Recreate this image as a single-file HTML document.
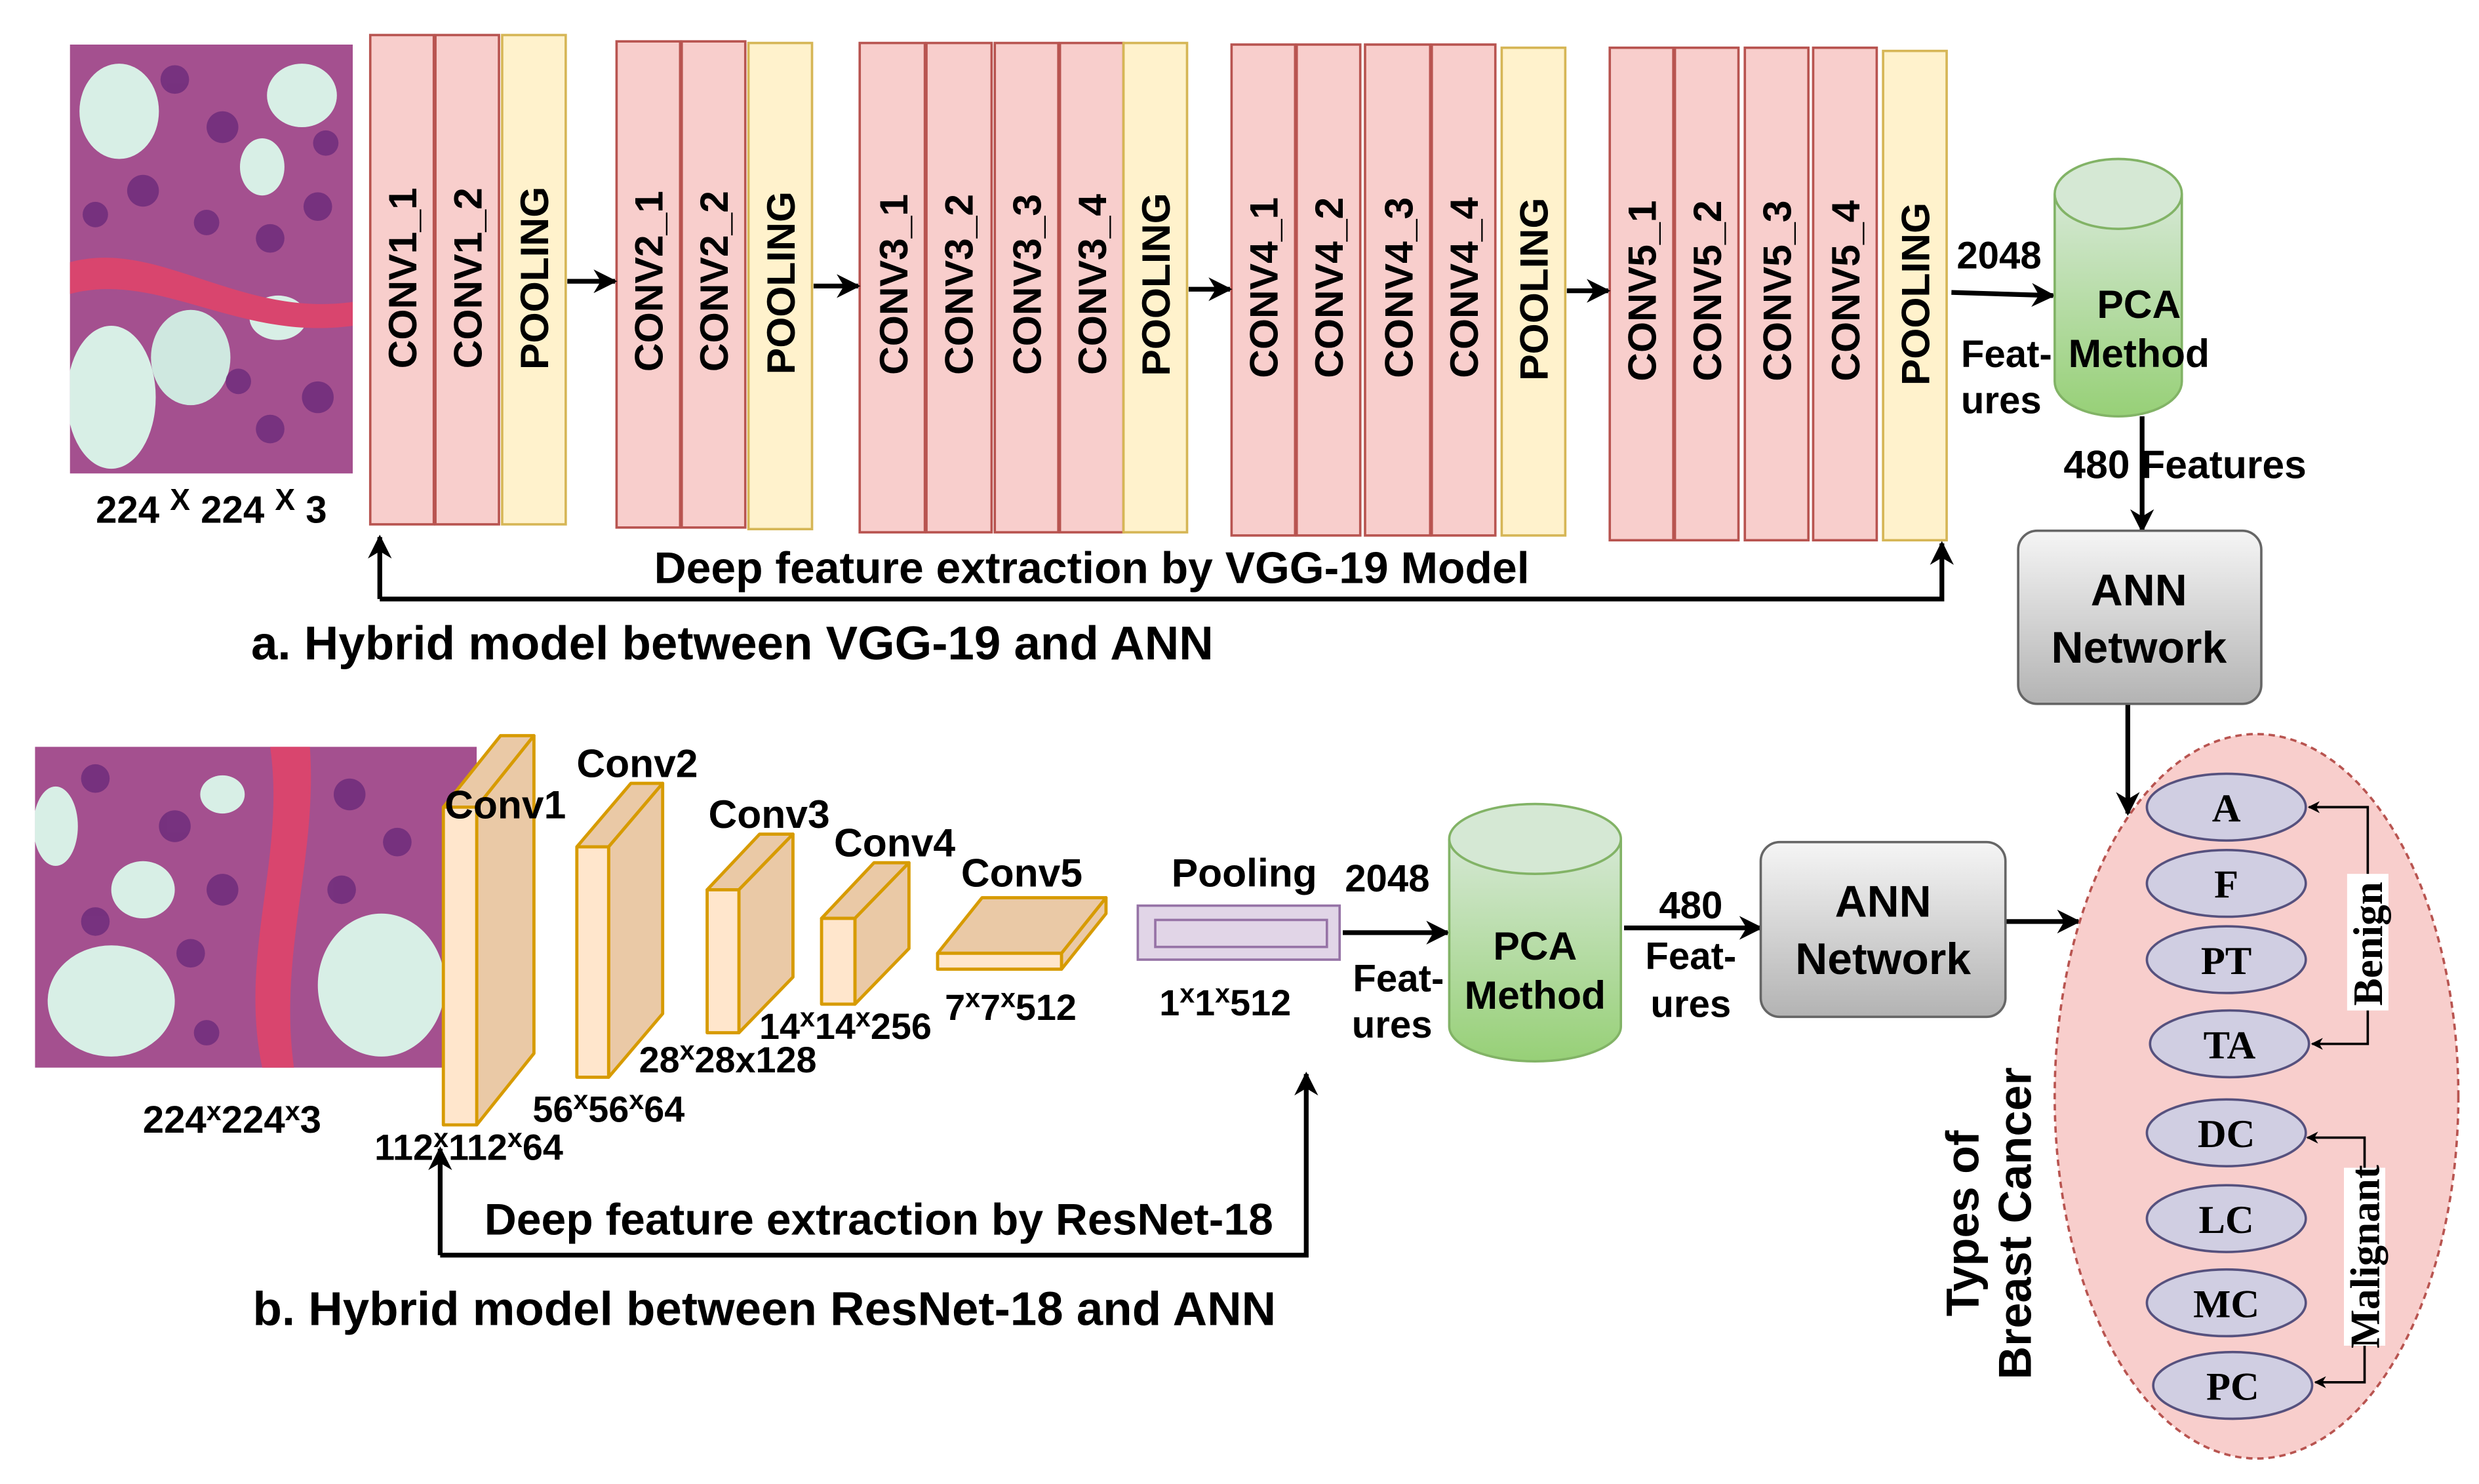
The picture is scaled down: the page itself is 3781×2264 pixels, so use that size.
<!DOCTYPE html>
<html><head><meta charset="utf-8"><style>
html,body{margin:0;padding:0;background:#fff;}
svg{display:block;}
text{font-family:"Liberation Sans",Arial,sans-serif;font-weight:bold;fill:#000;}
.s{font-family:"Liberation Serif",serif;}
</style></head><body>
<svg width="3781" height="2264" viewBox="0 0 1560 934" xmlns="http://www.w3.org/2000/svg">
<defs>
<marker id="ah" viewBox="0 0 10 10" refX="9" refY="5" markerWidth="5" markerHeight="5" orient="auto"><path d="M0,0 L10,5 L0,10 L3,5 z" fill="#000"/></marker>
<linearGradient id="gr" x1="0" y1="0" x2="0" y2="1"><stop offset="0" stop-color="#f5f5f5"/><stop offset="1" stop-color="#b3b3b3"/></linearGradient>
<linearGradient id="gg" x1="0" y1="0" x2="0" y2="1"><stop offset="0" stop-color="#d5e8d4"/><stop offset="1" stop-color="#97d077"/></linearGradient>
<clipPath id="c1"><rect x="44" y="28" width="178" height="270"/></clipPath>
<clipPath id="c2"><rect x="22" y="470" width="278" height="202"/></clipPath>
</defs>

<g clip-path="url(#c1)">
<rect x="44" y="28" width="178" height="270" fill="#a4508f"/>
<ellipse cx="75" cy="70" rx="25" ry="30" fill="#d8efe6"/>
<ellipse cx="190" cy="60" rx="22" ry="20" fill="#d8efe6"/>
<ellipse cx="165" cy="105" rx="14" ry="18" fill="#d8efe6"/>
<ellipse cx="70" cy="250" rx="28" ry="45" fill="#d8efe6"/>
<ellipse cx="120" cy="225" rx="25" ry="30" fill="#cfe8e0"/>
<ellipse cx="175" cy="200" rx="18" ry="14" fill="#d8efe6"/>
<path d="M44,165 C100,150 150,200 222,190 L222,205 C150,215 100,170 44,185z" fill="#d9456e"/>
<g fill="#6b2a7a" opacity="0.8">
<circle cx="110" cy="50" r="9"/><circle cx="140" cy="80" r="10"/><circle cx="200" cy="130" r="9"/><circle cx="90" cy="120" r="10"/><circle cx="130" cy="140" r="8"/><circle cx="170" cy="150" r="9"/><circle cx="60" cy="135" r="8"/><circle cx="200" cy="250" r="10"/><circle cx="170" cy="270" r="9"/><circle cx="150" cy="240" r="8"/><circle cx="205" cy="90" r="8"/>
</g>
</g>
<text x="133" y="329" font-size="24" text-anchor="middle">224 <tspan dy="-8" font-size="19">X</tspan><tspan dy="8"> 224 </tspan><tspan dy="-8" font-size="19">X</tspan><tspan dy="8"> 3</tspan></text>

<g stroke-width="1.5">
<g fill="#f8cecc" stroke="#b85450">
<rect x="233" y="22" width="40" height="308"/><rect x="274" y="22" width="40" height="308"/>
<rect x="388" y="26" width="40" height="306"/><rect x="429" y="26" width="40" height="306"/>
<rect x="541" y="27" width="41" height="308"/><rect x="583" y="27" width="41" height="308"/><rect x="626" y="27" width="40" height="308"/><rect x="667" y="27" width="40" height="308"/>
<rect x="775" y="28" width="40" height="309"/><rect x="816" y="28" width="40" height="309"/><rect x="859" y="28" width="41" height="309"/><rect x="901" y="28" width="40" height="309"/>
<rect x="1013" y="30" width="40" height="310"/><rect x="1054" y="30" width="40" height="310"/><rect x="1098" y="30" width="40" height="310"/><rect x="1141" y="30" width="40" height="310"/>
</g>
<g fill="#fff2cc" stroke="#d6b656">
<rect x="316" y="22" width="40" height="308"/><rect x="471" y="27" width="40" height="306"/><rect x="707" y="27" width="40" height="308"/><rect x="945" y="30" width="40" height="307"/><rect x="1185" y="32" width="40" height="308"/>
</g>
</g>
<g font-size="25">
<text transform="translate(262,175) rotate(-90)" text-anchor="middle">CONV1_1</text>
<text transform="translate(303,175) rotate(-90)" text-anchor="middle">CONV1_2</text>
<text transform="translate(345,175) rotate(-90)" text-anchor="middle">POOLING</text>
<text transform="translate(417,177) rotate(-90)" text-anchor="middle">CONV2_1</text>
<text transform="translate(458,177) rotate(-90)" text-anchor="middle">CONV2_2</text>
<text transform="translate(500,178) rotate(-90)" text-anchor="middle">POOLING</text>
<text transform="translate(571,179) rotate(-90)" text-anchor="middle">CONV3_1</text>
<text transform="translate(612,179) rotate(-90)" text-anchor="middle">CONV3_2</text>
<text transform="translate(655,179) rotate(-90)" text-anchor="middle">CONV3_3</text>
<text transform="translate(696,179) rotate(-90)" text-anchor="middle">CONV3_4</text>
<text transform="translate(736,179) rotate(-90)" text-anchor="middle">POOLING</text>
<text transform="translate(804,181) rotate(-90)" text-anchor="middle">CONV4_1</text>
<text transform="translate(845,181) rotate(-90)" text-anchor="middle">CONV4_2</text>
<text transform="translate(889,181) rotate(-90)" text-anchor="middle">CONV4_3</text>
<text transform="translate(930,181) rotate(-90)" text-anchor="middle">CONV4_4</text>
<text transform="translate(974,182) rotate(-90)" text-anchor="middle">POOLING</text>
<text transform="translate(1042,183) rotate(-90)" text-anchor="middle">CONV5_1</text>
<text transform="translate(1083,183) rotate(-90)" text-anchor="middle">CONV5_2</text>
<text transform="translate(1127,183) rotate(-90)" text-anchor="middle">CONV5_3</text>
<text transform="translate(1170,183) rotate(-90)" text-anchor="middle">CONV5_4</text>
<text transform="translate(1214,185) rotate(-90)" text-anchor="middle">POOLING</text>
</g>
<g stroke="#000" stroke-width="3" fill="none" marker-end="url(#ah)">
<line x1="357" y1="177" x2="387" y2="177"/>
<line x1="512" y1="180" x2="540" y2="180"/>
<line x1="748" y1="182" x2="774" y2="182"/>
<line x1="986" y1="183" x2="1012" y2="183"/>
<line x1="1228" y1="184" x2="1292" y2="186"/>
<line x1="1348" y1="262" x2="1348" y2="334"/>
<line x1="1339" y1="443" x2="1339" y2="512"/>
<polyline points="239,377 239,338"/>
<polyline points="239,377 1222,377 1222,342"/>
</g>
<text x="1258" y="169" font-size="24" text-anchor="middle">2048</text>
<text x="1234" y="231" font-size="24">Feat-</text>
<text x="1234" y="260" font-size="24">ures</text>
<path d="M1293,122 L1293,240 A40,22 0 0 0 1373,240 L1373,122" fill="url(#gg)" stroke="#82b366" stroke-width="1.5"/>
<ellipse cx="1333" cy="122" rx="40" ry="22" fill="#d5e8d4" stroke="#82b366" stroke-width="1.5"/>
<text x="1346" y="200" font-size="25" text-anchor="middle">PCA</text>
<text x="1346" y="231" font-size="25" text-anchor="middle">Method</text>
<text x="1375" y="301" font-size="25" text-anchor="middle">480 Features</text>
<rect x="1270" y="334" width="153" height="109" rx="12" fill="url(#gr)" stroke="#666" stroke-width="1.5"/>
<text x="1346" y="381" font-size="28" text-anchor="middle">ANN</text>
<text x="1346" y="417" font-size="28" text-anchor="middle">Network</text>
<text x="687" y="367" font-size="28" text-anchor="middle">Deep feature extraction by VGG-19 Model</text>
<text x="158" y="415" font-size="30">a. Hybrid model between VGG-19 and ANN</text>

<g clip-path="url(#c2)">
<rect x="22" y="470" width="278" height="202" fill="#a4508f"/>
<ellipse cx="70" cy="630" rx="40" ry="35" fill="#d8efe6"/>
<ellipse cx="90" cy="560" rx="20" ry="18" fill="#d8efe6"/>
<ellipse cx="240" cy="620" rx="40" ry="45" fill="#d8efe6"/>
<ellipse cx="35" cy="520" rx="14" ry="25" fill="#d8efe6"/>
<ellipse cx="140" cy="500" rx="14" ry="12" fill="#d8efe6"/>
<path d="M170,470 C180,540 150,600 165,672 L185,672 C175,600 200,540 195,470z" fill="#d9456e"/>
<g fill="#6b2a7a" opacity="0.8">
<circle cx="60" cy="490" r="9"/><circle cx="110" cy="520" r="10"/><circle cx="140" cy="560" r="10"/><circle cx="60" cy="580" r="9"/><circle cx="220" cy="500" r="10"/><circle cx="250" cy="530" r="9"/><circle cx="215" cy="560" r="9"/><circle cx="120" cy="600" r="9"/><circle cx="130" cy="650" r="8"/>
</g>
</g>
<text x="146" y="713" font-size="24" text-anchor="middle">224<tspan dy="-8" font-size="17">x</tspan><tspan dy="8">224</tspan><tspan dy="-8" font-size="17">x</tspan><tspan dy="8">3</tspan></text>

<g stroke="#d79b00" stroke-width="2" stroke-linejoin="round">
<polygon points="279,508 315,463 336,463 300,508" fill="#eac9a6"/>
<polygon points="300,508 336,463 336,663 300,708" fill="#eac9a6"/>
<rect x="279" y="508" width="21" height="200" fill="#ffe6cc"/>
<polygon points="363,533 397,493 417,493 383,533" fill="#eac9a6"/>
<polygon points="383,533 417,493 417,638 383,678" fill="#eac9a6"/>
<rect x="363" y="533" width="20" height="145" fill="#ffe6cc"/>
<polygon points="445,560 478,525 499,525 465,560" fill="#eac9a6"/>
<polygon points="465,560 499,525 499,615 465,650" fill="#eac9a6"/>
<rect x="445" y="560" width="20" height="90" fill="#ffe6cc"/>
<polygon points="517,578 550,543 572,543 538,578" fill="#eac9a6"/>
<polygon points="538,578 572,543 572,597 538,632" fill="#eac9a6"/>
<rect x="517" y="578" width="21" height="54" fill="#ffe6cc"/>
<polygon points="590,600 618,565 696,565 668,600" fill="#eac9a6"/>
<polygon points="668,600 696,565 696,575 668,610" fill="#eac9a6"/>
<rect x="590" y="600" width="78" height="10" fill="#ffe6cc"/>
</g>
<g font-size="25" text-anchor="middle">
<text x="318" y="515">Conv1</text>
<text x="401" y="489">Conv2</text>
<text x="484" y="521">Conv3</text>
<text x="563" y="539">Conv4</text>
<text x="643" y="558">Conv5</text>
<text x="783" y="558">Pooling</text>
</g>
<g font-size="23" text-anchor="middle">
<text x="295" y="730">112<tspan dy="-8" font-size="17">x</tspan><tspan dy="8">112</tspan><tspan dy="-8" font-size="17">x</tspan><tspan dy="8">64</tspan></text>
<text x="383" y="706">56<tspan dy="-8" font-size="17">x</tspan><tspan dy="8">56</tspan><tspan dy="-8" font-size="17">x</tspan><tspan dy="8">64</tspan></text>
<text x="458" y="675">28<tspan dy="-8" font-size="17">x</tspan><tspan dy="8">28x128</tspan></text>
<text x="532" y="654">14<tspan dy="-8" font-size="17">x</tspan><tspan dy="8">14</tspan><tspan dy="-8" font-size="17">x</tspan><tspan dy="8">256</tspan></text>
<text x="636" y="642">7<tspan dy="-8" font-size="17">x</tspan><tspan dy="8">7</tspan><tspan dy="-8" font-size="17">x</tspan><tspan dy="8">512</tspan></text>
<text x="771" y="639">1<tspan dy="-8" font-size="17">x</tspan><tspan dy="8">1</tspan><tspan dy="-8" font-size="17">x</tspan><tspan dy="8">512</tspan></text>
</g>
<rect x="716" y="570" width="127" height="34" fill="#e1d5e7" stroke="#9673a6" stroke-width="1.5"/>
<rect x="727" y="579" width="108" height="17" fill="#e1d5e7" stroke="#9673a6" stroke-width="1.5"/>

<g stroke="#000" stroke-width="3" fill="none" marker-end="url(#ah)">
<line x1="845" y1="587" x2="911" y2="587"/>
<line x1="1022" y1="584" x2="1108" y2="584"/>
<line x1="1262" y1="580" x2="1308" y2="580"/>
<polyline points="277,790 277,723"/>
<polyline points="277,790 822,790 822,676"/>
</g>
<text x="873" y="561" font-size="24" text-anchor="middle">2048</text>
<text x="880" y="624" font-size="24" text-anchor="middle">Feat-</text>
<text x="876" y="653" font-size="24" text-anchor="middle">ures</text>
<path d="M912,528 L912,646 A54,22 0 0 0 1020,646 L1020,528" fill="url(#gg)" stroke="#82b366" stroke-width="1.5"/>
<ellipse cx="966" cy="528" rx="54" ry="22" fill="#d5e8d4" stroke="#82b366" stroke-width="1.5"/>
<text x="966" y="604" font-size="25" text-anchor="middle">PCA</text>
<text x="966" y="635" font-size="25" text-anchor="middle">Method</text>
<text x="1064" y="578" font-size="24" text-anchor="middle">480</text>
<text x="1064" y="610" font-size="24" text-anchor="middle">Feat-</text>
<text x="1064" y="640" font-size="24" text-anchor="middle">ures</text>
<rect x="1108" y="530" width="154" height="110" rx="12" fill="url(#gr)" stroke="#666" stroke-width="1.5"/>
<text x="1185" y="577" font-size="28" text-anchor="middle">ANN</text>
<text x="1185" y="613" font-size="28" text-anchor="middle">Network</text>
<text x="553" y="777" font-size="28" text-anchor="middle">Deep feature extraction by ResNet-18</text>
<text x="481" y="834" font-size="30" text-anchor="middle">b. Hybrid model between ResNet-18 and ANN</text>

<ellipse cx="1420" cy="690" rx="127" ry="228" fill="#f8cecc" stroke="#b85450" stroke-width="1.5" stroke-dasharray="4,3"/>
<g fill="#d0cee2" stroke="#56517e" stroke-width="1.5">
<ellipse cx="1401" cy="508" rx="50" ry="21"/><ellipse cx="1401" cy="556" rx="50" ry="21"/>
<ellipse cx="1401" cy="604" rx="50" ry="21"/><ellipse cx="1403" cy="657" rx="50" ry="21"/>
<ellipse cx="1401" cy="713" rx="50" ry="21"/><ellipse cx="1401" cy="767" rx="50" ry="21"/>
<ellipse cx="1401" cy="820" rx="50" ry="21"/><ellipse cx="1405" cy="872" rx="50" ry="21"/>
</g>
<g class="s" font-size="25" text-anchor="middle">
<text class="s" x="1401" y="517">A</text><text class="s" x="1401" y="565">F</text>
<text class="s" x="1401" y="613">PT</text><text class="s" x="1403" y="666">TA</text>
<text class="s" x="1401" y="722">DC</text><text class="s" x="1401" y="776">LC</text>
<text class="s" x="1401" y="829">MC</text><text class="s" x="1405" y="881">PC</text>
</g>
<g stroke="#000" stroke-width="1.5" fill="none" marker-end="url(#ah)">
<polyline points="1490,583 1490,508 1453,508"/>
<polyline points="1490,583 1490,657 1455,657"/>
<polyline points="1488,790 1488,716 1452,716"/>
<polyline points="1488,790 1488,870 1457,870"/>
</g>
<rect x="1477" y="550" width="26" height="86" fill="#fff"/>
<text class="s" transform="translate(1499,594) rotate(-90)" font-size="26" text-anchor="middle" font-weight="normal">Benign</text>
<rect x="1475" y="735" width="26" height="112" fill="#fff"/>
<text class="s" transform="translate(1497,791) rotate(-90)" font-size="26" text-anchor="middle" font-weight="normal">Malignant</text>
<text transform="translate(1245,770) rotate(-90)" font-size="29" text-anchor="middle">Types of</text>
<text transform="translate(1278,770) rotate(-90)" font-size="29" text-anchor="middle">Breast Cancer</text>
</svg>
</body></html>
